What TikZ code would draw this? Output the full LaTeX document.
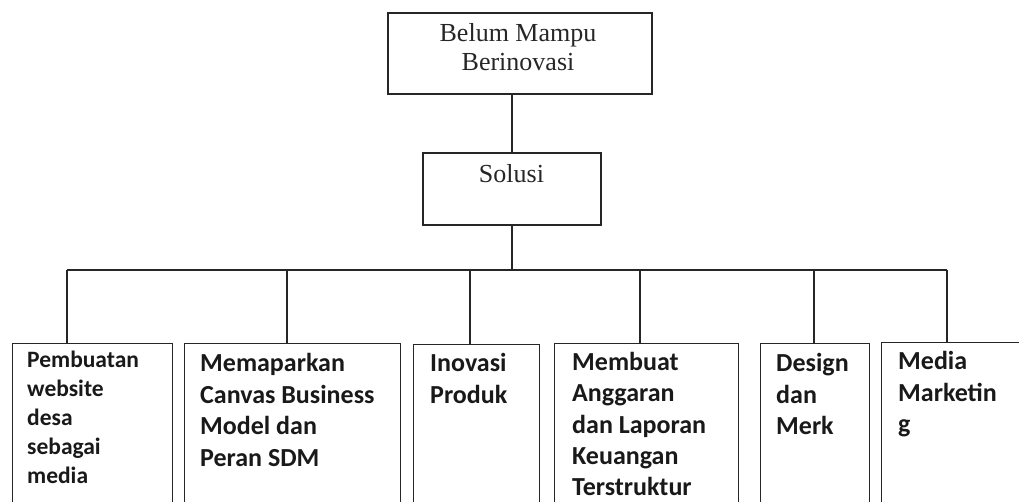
\documentclass[tikz,border=0pt]{standalone}
\usepackage{fontspec}
\setmainfont{Liberation Serif}
\newfontfamily\calfont{Carlito}
\begin{document}
\begin{tikzpicture}[x=1pt,y=-1pt,
  box/.style={draw=black!85, line width=1.2pt, rectangle, inner sep=0pt, fill=none},
  conn/.style={draw=black!85, line width=1.2pt},
  serif/.style={font=\fontsize{26}{28.5}\selectfont, align=center, inner sep=0pt, text=black!85},
  sbold/.style={font=\calfont\bfseries\fontsize{26}{31.6}\selectfont, align=left, inner sep=0pt, anchor=base west, text=black!90},
  sboldb/.style={font=\calfont\bfseries\fontsize{26}{31.2}\selectfont, align=left, inner sep=0pt, anchor=base west, text=black!90},
  sboldsmall/.style={font=\calfont\bfseries\fontsize{23.5}{29}\selectfont, align=left, inner sep=0pt, anchor=base west, text=black!90}]
\useasboundingbox (0,0) rectangle (1019,501);
\clip (0,0) rectangle (1019,501);
% top boxes
\node[box, minimum width=264pt, minimum height=81pt] (top) at (520,53.5) {};
\node[serif, anchor=base] (toptxt) at (518,70.2) {Belum Mampu\\Berinovasi};
\node[box, minimum width=178pt, minimum height=72pt] (sol) at (512,189) {};
\node[serif, anchor=base] (soltxt) at (511.5,182.7) {Solusi};
% bottom boxes (extend below the visible area)
\node[box, anchor=north west, minimum width=160pt, minimum height=200pt] (b1) at (12,343) {};
\node[box, anchor=north west, minimum width=216pt, minimum height=200pt] (b2) at (184,343) {};
\node[box, anchor=north west, minimum width=126pt, minimum height=200pt] (b3) at (413,344) {};
\node[box, anchor=north west, minimum width=184pt, minimum height=200pt] (b4) at (554,343) {};
\node[box, anchor=north west, minimum width=109pt, minimum height=200pt] (b5) at (760,343) {};
\node[box, anchor=north west, minimum width=160pt, minimum height=200pt] (b6) at (881,342) {};
% texts (base anchor = baseline of the last line)
\node[sboldsmall] (t1) at (27,483) {Pembuatan\\website\\desa\\sebagai\\media};
\node[sbold] (t2) at (200,466.5) {Memaparkan\\Canvas Business\\Model dan\\Peran SDM};
\node[sbold] (t3) at (430,403.3) {Inovasi\\Produk};
\node[sboldb] (t4) at (572,495.5) {Membuat\\Anggaran\\dan Laporan\\Keuangan\\Terstruktur};
\node[sbold] (t5) at (776,434.9) {Design\\dan\\Merk};
\node[sbold] (t6) at (898,432.7) {Media\\Marketin\\g};
% connectors
\coordinate (j) at (512,270);
\coordinate (d1) at (67,270);
\coordinate (d2) at (287,270);
\coordinate (d3) at (470,270);
\coordinate (d4) at (640,270);
\coordinate (d5) at (814,270);
\coordinate (d6) at (947,270);
\draw[conn] (top.south -| j) -- (sol.north -| j);
\draw[conn] (sol.south -| j) -- (j);
\draw[conn] (d1) -- (d6);
\draw[conn] (d1) -- (d1 |- b1.north);
\draw[conn] (d2) -- (d2 |- b2.north);
\draw[conn] (d3) -- (d3 |- b3.north);
\draw[conn] (d4) -- (d4 |- b4.north);
\draw[conn] (d5) -- (d5 |- b5.north);
\draw[conn] (d6) -- (d6 |- b6.north);
\end{tikzpicture}
\end{document}
